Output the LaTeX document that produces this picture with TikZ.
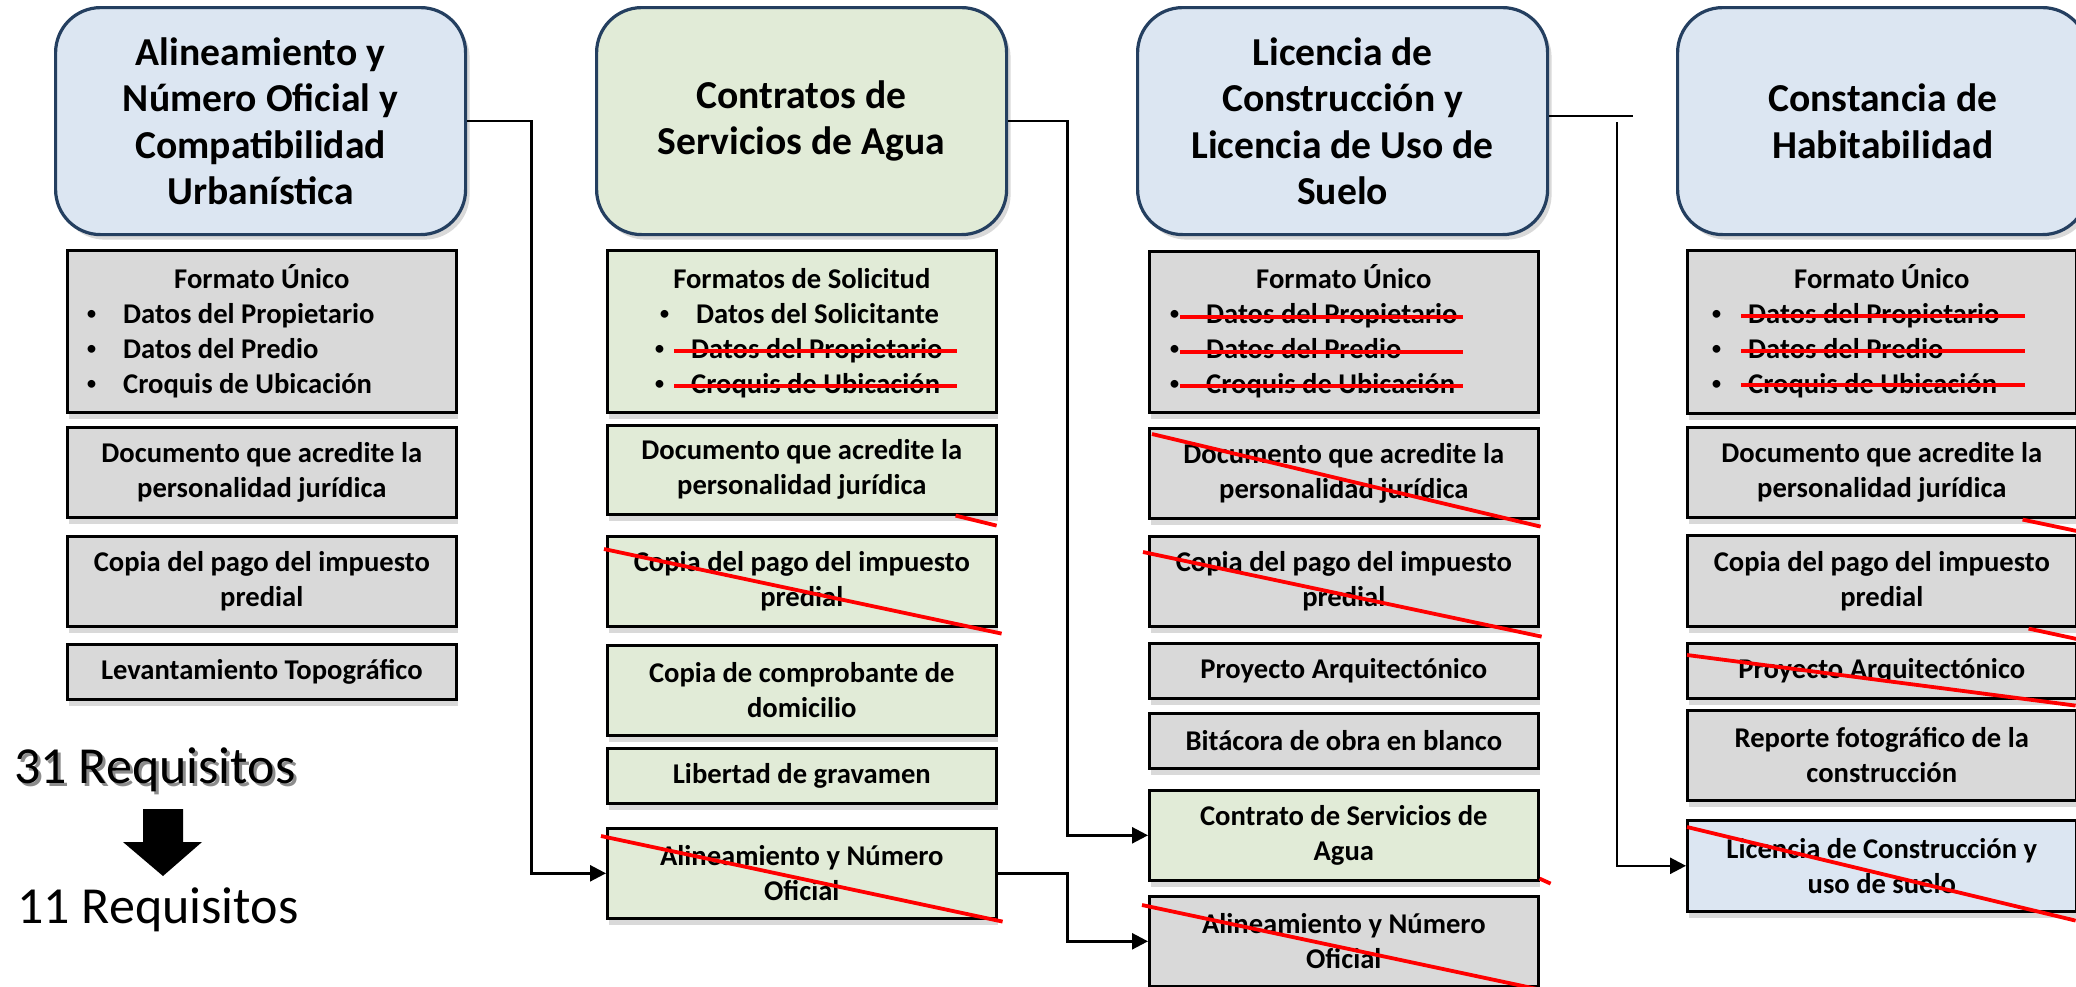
\documentclass[tikz,border=0pt]{standalone}
\usepackage{fontspec}
\setmainfont{Carlito}
\usetikzlibrary{calc,shadows,arrows.meta}
\definecolor{hdrblue}{HTML}{DCE6F2}
\definecolor{hdrline}{HTML}{243F60}
\definecolor{boxgreen}{HTML}{E1EBD7}
\definecolor{boxgray}{HTML}{D9D9D9}
\newcommand{\hdrfont}{\fontsize{39.6}{46.5}\selectfont\bfseries}
\newcommand{\boxfont}{\fontsize{28.6}{35}\selectfont\bfseries}
\newcommand{\reqfont}{\fontsize{52}{60}\selectfont}
\newcommand{\blt}{\makebox[37pt][l]{\raisebox{2.6pt}{\fontsize{22}{22}\selectfont\mdseries •}}}
\tikzset{
  hdr/.style={draw=hdrline, line width=3.2pt, rounded corners=45pt,
    minimum width=410pt, minimum height=227pt, anchor=north west,
    align=center, font=\hdrfont, inner sep=0pt,
    drop shadow={shadow xshift=4pt, shadow yshift=-5pt, opacity=0.3}},
  reqbox/.style={draw=black, line width=2.6pt, minimum width=389pt,
    anchor=north west, align=center, font=\boxfont, inner sep=0pt,
    drop shadow={shadow xshift=2pt, shadow yshift=-7pt, opacity=0.3}},
  grayfill/.style={fill=boxgray},
  greenfill/.style={fill=boxgreen},
  bluefill/.style={fill=hdrblue},
  listtitle/.style={anchor=base, font=\boxfont, inner sep=0pt},
  listitem/.style={anchor=base west, font=\boxfont, inner sep=0pt},
  conn/.style={draw=black, line width=2.6pt},
  arr/.style={-{Triangle[length=16pt,width=16pt]}},
  strike/.style={draw=red, line width=3.8pt},
  reqtxt/.style={anchor=base, font=\reqfont, inner sep=0pt},
}
\begin{document}
\begin{tikzpicture}[x=1pt,y=-1pt]
\useasboundingbox (0,0) rectangle (2076,986);
\clip (0,0) rectangle (2076,986);

% headers
\node[hdr, fill=hdrblue] (h1) at (54,6) {Alineamiento y\\Número Oficial y\\Compatibilidad\\Urbanística};
\node[hdr, fill=boxgreen] (h2) at (595,6) {Contratos de\\Servicios de Agua};
\node[hdr, fill=hdrblue] (h3) at (1136,6) {Licencia de\\Construcción y\\Licencia de Uso de\\Suelo};
\node[hdr, fill=hdrblue] (h4) at (1676,6) {Constancia de\\Habitabilidad};

% column 1
\node[reqbox, grayfill, minimum height=162pt] (a1) at (66,249) {};
\node[listtitle] (a1t) at ($(a1.north)+(0,39)$) {Formato Único};
\node[listitem] (a1i1) at ($(a1.north west)+(20,74)$) {\blt Datos del Propietario};
\node[listitem] (a1i2) at ($(a1.north west)+(20,109)$) {\blt Datos del Predio};
\node[listitem] (a1i3) at ($(a1.north west)+(20,144)$) {\blt Croquis de Ubicación};
\node[reqbox, grayfill, minimum height=90pt] (a2) at (66,426) {Documento que acredite la\\personalidad jurídica};
\node[reqbox, grayfill, minimum height=90pt] (a3) at (66,535) {Copia del pago del impuesto\\predial};
\node[reqbox, grayfill, minimum height=55pt] (a4) at (66,643) {Levantamiento Topográfico};

% column 2
\node[reqbox, greenfill, minimum height=162pt] (b1) at (606,249) {};
\node[listtitle] (b1t) at ($(b1.north)+(0,39)$) {Formatos de Solicitud};
\node[listitem] (b1i1) at ($(b1.north west)+(53,74)$) {\blt Datos del Solicitante};
\node[listitem] (b1i2) at ($(b1.north west)+(48,109)$) {\blt Datos del Propietario};
\node[listitem] (b1i3) at ($(b1.north west)+(48,144)$) {\blt Croquis de Ubicación};
\node[reqbox, greenfill, minimum height=89pt] (b2) at (606,424) {Documento que acredite la\\personalidad jurídica};
\node[reqbox, greenfill, minimum height=90pt] (b3) at (606,535) {Copia del pago del impuesto\\predial};
\node[reqbox, greenfill, minimum height=90pt] (b4) at (606,644) {Copia de comprobante de\\domicilio};
\node[reqbox, greenfill, minimum height=55pt] (b5) at (606,747) {Libertad de gravamen};
\node[reqbox, greenfill, minimum height=90pt] (b6) at (606,827) {Alineamiento y Número\\Oficial};

% column 3
\node[reqbox, grayfill, minimum height=161pt] (c1) at (1148,250) {};
\node[listtitle] (c1t) at ($(c1.north)+(0,38)$) {Formato Único};
\node[listitem] (c1i1) at ($(c1.north west)+(21,73)$) {\blt Datos del Propietario};
\node[listitem] (c1i2) at ($(c1.north west)+(21,108)$) {\blt Datos del Predio};
\node[listitem] (c1i3) at ($(c1.north west)+(21,143)$) {\blt Croquis de Ubicación};
\node[reqbox, grayfill, minimum height=90pt] (c2) at (1148,427) {Documento que acredite la\\personalidad jurídica};
\node[reqbox, grayfill, minimum height=90pt] (c3) at (1148,535) {Copia del pago del impuesto\\predial};
\node[reqbox, grayfill, minimum height=55pt] (c4) at (1148,642) {Proyecto Arquitectónico};
\node[reqbox, grayfill, minimum height=55pt] (c5) at (1148,712) {Bitácora de obra en blanco};
\node[reqbox, greenfill, minimum height=90pt] (c6) at (1148,789) {Contrato de Servicios de\\Agua};
\node[reqbox, grayfill, minimum height=90pt] (c7) at (1148,895) {Alineamiento y Número\\Oficial};

% column 4
\node[reqbox, grayfill, minimum height=163pt] (d1) at (1686,249) {};
\node[listtitle] (d1t) at ($(d1.north)+(0,39)$) {Formato Único};
\node[listitem] (d1i1) at ($(d1.north west)+(25,74)$) {\blt Datos del Propietario};
\node[listitem] (d1i2) at ($(d1.north west)+(25,109)$) {\blt Datos del Predio};
\node[listitem] (d1i3) at ($(d1.north west)+(25,144)$) {\blt Croquis de Ubicación};
\node[reqbox, grayfill, minimum height=90pt] (d2) at (1686,426) {Documento que acredite la\\personalidad jurídica};
\node[reqbox, grayfill, minimum height=91pt] (d3) at (1686,534) {Copia del pago del impuesto\\predial};
\node[reqbox, grayfill, minimum height=55pt] (d4) at (1686,642) {Proyecto Arquitectónico};
\node[reqbox, grayfill, minimum height=90pt] (d5) at (1686,709) {Reporte fotográfico de la\\construcción};
\node[reqbox, bluefill, minimum height=91pt] (d6) at (1686,819) {Licencia de Construcción y\\uso de suelo};

% connectors
\draw[conn, arr] (h1.east) -- ++(64,0) |- (b6.west);
\draw[conn, arr] (h2.east) -- ++(59,0) |- (c6.west);
\draw[conn, arr] (b6.east) -- ++(70,0) |- (c7.west);
\coordinate (h3end) at (1633,116);
\draw[conn] (h3.east |- h3end) -- (h3end);
\coordinate (d6top) at (1617,122);
\draw[conn, arr] (d6top) |- (d6.west);

% horizontal strikes
\foreach \dy in {102,137}{
  \draw[strike] ($(b1.north west)+(68,\dy)$) -- ($(b1.north west)+(351,\dy)$);}
\foreach \dy in {67,102,136}{
  \draw[strike] ($(c1.north west)+(32,\dy)$) -- ($(c1.north west)+(315,\dy)$);
  \draw[strike] ($(d1.north west)+(55,\dy)$) -- ($(d1.north west)+(339,\dy)$);}

% diagonal strikes
\draw[strike] ($(b2.south east)+(-42,0)$) -- ($(b2.south east)+(-1,10)$);
\draw[strike] ($(b3.north west)+(-2,14)$) -- ($(b3.south east)+(4,6)$);
\draw[strike] ($(b6.north west)+(-5,9)$) -- ($(b6.south east)+(5,2)$);
\draw[strike] ($(c2.north west)+(4,7)$) -- ($(c2.south east)+(1,7)$);
\draw[strike] ($(c3.north west)+(-5,17)$) -- ($(c3.south east)+(2,9)$);
\draw[strike] ($(c6.south east)+(0,-3)$) -- ($(c6.south east)+(11,2)$);
\draw[strike] ($(c7.north west)+(-6,10)$) -- ($(c7.south east)+(5,3)$);
\draw[strike] ($(d2.south east)+(-55,1)$) -- ($(d2.south east)+(2,13)$);
\draw[strike] ($(d3.south east)+(-49,1)$) -- ($(d3.south east)+(2,12)$);
\draw[strike] ($(d4.north west)+(1,13)$) -- ($(d4.south east)+(-2,6)$);
\draw[strike] ($(d6.north west)+(1,8)$) -- ($(d6.south east)+(-2,8)$);

% requirement counts
\node[reqtxt, text=black!45] (r31s) at (158,786) {31 Requisitos};
\node[reqtxt] (r31) at (155,783) {31 Requisitos};
\fill (143,809) -- (183,809) -- (183,842) -- (202,842) -- (163,876) -- (123,842) -- (143,842) -- cycle;
\node[reqtxt] (r11) at (158,923) {11 Requisitos};
\end{tikzpicture}
\end{document}
